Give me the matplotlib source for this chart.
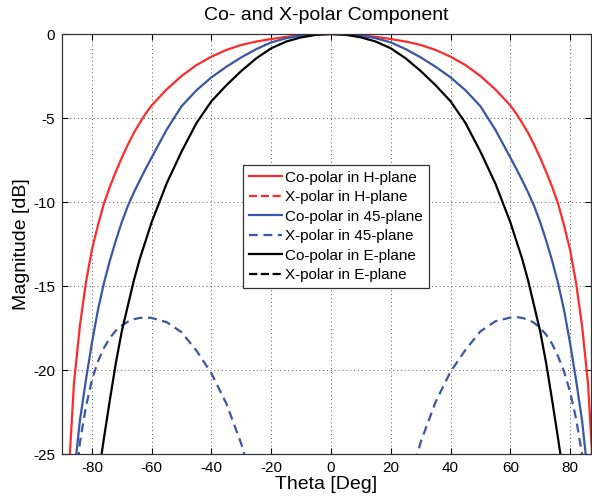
import numpy as np
import matplotlib
matplotlib.use("Agg")
import matplotlib.pyplot as plt

plt.rcParams['font.family'] = ['Liberation Sans', 'DejaVu Sans']
plt.rcParams['axes.unicode_minus'] = False

# Angle grid (deg)
theta = [-90, -88, -86, -84, -82, -80, -78, -76, -74, -72, -70, -68, -66, -64, -62, -60,
         -55, -50, -45, -40, -35, -30, -25, -20, -15, -10, -5, 0,
         5, 10, 15, 20, 25, 30, 35, 40, 45, 50, 55,
         60, 62, 64, 66, 68, 70, 72, 74, 76, 78, 80, 82, 84, 86, 88, 90]

# Co-polar H-plane (dB)
co_h = [-40, -27.0, -20.8, -17.35, -14.8, -12.85, -11.4, -10.1, -9.1, -8.2, -7.37, -6.6, -5.9, -5.3, -4.74, -4.25,
        -3.3, -2.5, -1.85, -1.35, -0.95, -0.65, -0.45, -0.3, -0.17, -0.08, -0.02, 0,
        -0.02, -0.08, -0.17, -0.3, -0.45, -0.65, -0.95, -1.35, -1.85, -2.5, -3.3,
        -4.25, -4.74, -5.3, -5.9, -6.6, -7.37, -8.2, -9.1, -10.1, -11.4, -12.85, -14.8, -17.35, -20.8, -27.0, -40]

# Co-polar 45-plane (dB)
co_45 = [-40, -32, -26.3, -23.0, -20.6, -18.4, -16.45, -14.85, -13.5, -12.3, -11.2, -10.25, -9.45, -8.72, -8.02, -7.35,
         -5.7, -4.3, -3.35, -2.58, -1.95, -1.39, -0.9, -0.5, -0.25, -0.1, -0.02, 0,
         -0.02, -0.1, -0.25, -0.5, -0.9, -1.39, -1.95, -2.58, -3.35, -4.3, -5.7,
         -7.35, -8.02, -8.72, -9.45, -10.25, -11.2, -12.3, -13.5, -14.85, -16.45, -18.4, -20.6, -23.0, -26.3, -32, -40]

# X-polar 45-plane (dB)
x_45 = [-45, -33, -28, -24.3, -22.2, -20.6, -19.5, -18.7, -18.1, -17.65, -17.35, -17.13, -16.98, -16.9, -16.87, -16.9,
        -17.15, -17.75, -18.85, -20.2, -22.0, -24.4, -27.5, -31, -36, -42, -50, -60,
        -50, -42, -36, -31, -27.5, -24.3, -21.9, -20.1, -18.8, -17.7, -17.1,
        -16.88, -16.85, -16.9, -17.0, -17.2, -17.5, -17.9, -18.45, -19.2, -20.1, -21.3, -22.9, -25.0, -28.5, -34, -45]

# Co-polar E-plane (dB)
co_e = [-60, -50, -42, -37, -32.5, -29, -26.5, -24.1, -21.8, -19.6, -17.7, -16.2, -14.7, -13.4, -12.3, -11.2,
        -8.9, -7.0, -5.3, -4.0, -3.05, -2.2, -1.45, -0.85, -0.45, -0.2, -0.05, 0,
        -0.05, -0.2, -0.45, -0.85, -1.45, -2.2, -3.05, -4.0, -5.3, -7.0, -8.9,
        -11.2, -12.3, -13.4, -14.7, -16.2, -17.7, -19.6, -21.8, -24.1, -26.5, -29, -32.5, -37, -42, -50, -60]

labels = ['Co-polar in H-plane', 'X-polar in H-plane',
          'Co-polar in 45-plane', 'X-polar in 45-plane',
          'Co-polar in E-plane', 'X-polar in E-plane']

red = '#ff2a2a'
blue = '#3a56a8'

fig = plt.figure(figsize=(5.92, 5.03), dpi=100)
ax = fig.add_axes([62 / 592, 49 / 503, 529 / 592, 420 / 503])

lw = 1.6
ax.plot(theta, co_h, color=red, lw=lw, label=labels[0])
ax.plot([], [], color=red, lw=lw, ls='--', label=labels[1])
ax.plot(theta, co_45, color=blue, lw=lw, label=labels[2])
ax.plot(theta, x_45, color=blue, lw=lw, ls=(0, (4, 2.5)), label=labels[3])
ax.plot(theta, co_e, color='black', lw=lw, label=labels[4])
ax.plot([], [], color='black', lw=lw, ls='--', label=labels[5])

ax.set_xlim(-90, 87)
ax.set_ylim(-25, 0)
ax.set_xticks(np.arange(-80, 81, 20))
ax.set_yticks(np.arange(-25, 1, 5))
ax.tick_params(direction='in', length=4, width=0.8, labelsize=11,
               top=True, right=True, pad=5)
ax.grid(True, ls=(0, (1, 3)), color='#555555', lw=0.7)
for s in ax.spines.values():
    s.set_linewidth(0.9)
    s.set_color('#333333')

ax.set_title('Co- and X-polar Component', fontsize=14, pad=10)
ax.set_xlabel('Theta [Deg]', fontsize=14, labelpad=1)
ax.set_ylabel('Magnitude [dB]', fontsize=14, labelpad=2)

leg = ax.legend(loc='upper left', bbox_to_anchor=(0.342, 0.688), borderaxespad=0,
                fontsize=11, fancybox=False, framealpha=1, edgecolor='#333333',
                handlelength=2.2, handletextpad=0.2, labelspacing=0.36, borderpad=0.38)
leg.get_frame().set_linewidth(0.9)

fig.savefig('out.png', dpi=100)
